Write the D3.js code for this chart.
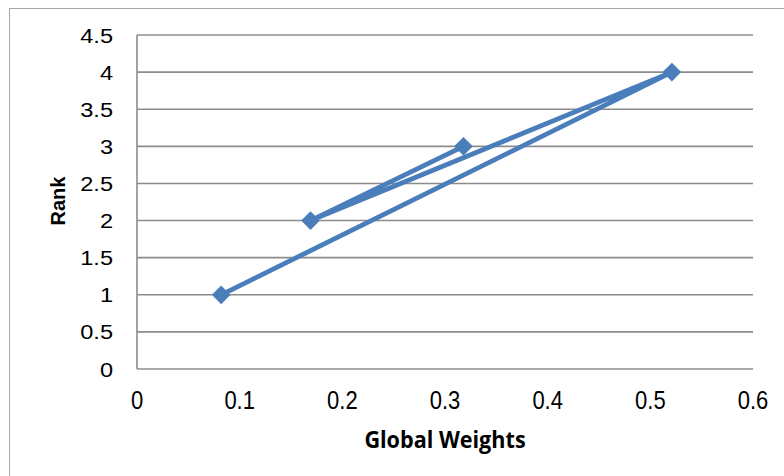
<!DOCTYPE html>
<html>
<head>
<meta charset="utf-8">
<script src="https://cdn.jsdelivr.net/npm/d3@7"></script>
<style>
  html, body { margin: 0; padding: 0; background: #fff; }
  svg { display: block; }
</style>
</head>
<body>
<svg id="chart" width="784" height="476"></svg>
<script>
// Data (series drawn in this order)
const globalWeights = [0.082, 0.521, 0.169, 0.318];
const ranks = [1, 4, 2, 3];
const xTicks = [0, 0.1, 0.2, 0.3, 0.4, 0.5, 0.6];
const yTicks = [0, 0.5, 1, 1.5, 2, 2.5, 3, 3.5, 4, 4.5];
const xTitle = "Global Weights";
const yTitle = "Rank";

const svg = d3.select("#chart");

// chart frame
svg.append("rect")
  .attr("x", 9.5).attr("y", 8.5)
  .attr("width", 800).attr("height", 500)
  .attr("fill", "#fff")
  .attr("stroke", "#a6a6a6").attr("stroke-width", 1);

const x = d3.scaleLinear().domain([0, 0.6]).range([137, 753]);
const y = d3.scaleLinear().domain([0, 4.5]).range([369, 35]);

// gridlines
svg.append("g")
  .selectAll("line")
  .data(yTicks)
  .join("line")
  .attr("x1", x(0)).attr("x2", x(0.6))
  .attr("y1", d => y(d)).attr("y2", d => y(d))
  .attr("stroke", "#8c8c8c").attr("stroke-width", 1.6);

// y axis line
svg.append("line")
  .attr("x1", x(0)).attr("x2", x(0))
  .attr("y1", y(4.5)).attr("y2", y(0))
  .attr("stroke", "#8c8c8c").attr("stroke-width", 1.6);

// y tick labels
svg.append("g")
  .selectAll("text")
  .data(yTicks)
  .join("text")
  .attr("transform", d => `translate(113, ${y(d) + 7.5}) scale(1.15,1)`)
  .attr("text-anchor", "end")
  .attr("font-family", "Liberation Sans, Arial, sans-serif")
  .attr("font-size", 20.5)
  .attr("fill", "#000")
  .text(d => d);

// x tick labels
svg.append("g")
  .selectAll("text")
  .data(xTicks)
  .join("text")
  .attr("transform", d => `translate(${x(d)}, 409) scale(0.88,1)`)
  .attr("text-anchor", "middle")
  .attr("font-family", "Liberation Sans, Arial, sans-serif")
  .attr("font-size", 25)
  .attr("fill", "#000")
  .text(d => d);

// axis titles
svg.append("text")
  .attr("transform", "translate(65, 201) rotate(-90)")
  .attr("text-anchor", "middle")
  .attr("font-family", "Liberation Sans, Arial, sans-serif")
  .attr("font-weight", "bold")
  .attr("font-size", 20)
  .text(yTitle);

svg.append("text")
  .attr("transform", "translate(445, 448) scale(0.9,1)")
  .attr("text-anchor", "middle")
  .attr("font-family", "Open Sans, sans-serif")
  .attr("font-weight", "bold")
  .attr("font-size", 24)
  .text(xTitle);

// series line
const pts = globalWeights.map((w, i) => [w, ranks[i]]);
const line = d3.line().x(d => x(d[0])).y(d => y(d[1]));
svg.append("path")
  .attr("d", line(pts))
  .attr("fill", "none")
  .attr("stroke", "#4a7ebb")
  .attr("stroke-width", 4.8)
  .attr("stroke-linejoin", "round");

// markers (square rotated 45deg)
const marker = d3.symbol().type(d3.symbolSquare).size(175);
svg.append("g")
  .selectAll("path")
  .data(pts)
  .join("path")
  .attr("transform", d => `translate(${x(d[0])}, ${y(d[1])}) rotate(45)`)
  .attr("d", marker)
  .attr("fill", "#4a7ebb");
</script>
</body>
</html>
